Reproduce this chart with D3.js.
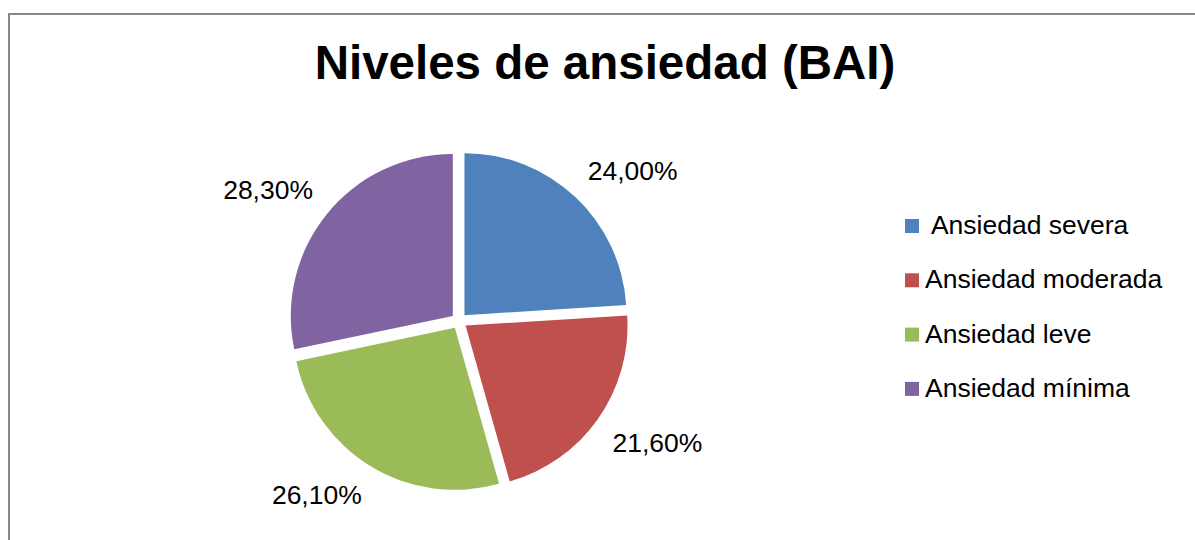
<!DOCTYPE html>
<html>
<head>
<meta charset="utf-8">
<script src="https://cdn.jsdelivr.net/npm/d3@7"></script>
<style>
  body { margin: 0; background: #fff; }
  svg text { font-family: "Liberation Sans", Arial, sans-serif; white-space: pre; }
</style>
</head>
<body>
<svg id="chart" width="1195" height="540"></svg>
<script>
const title = "Niveles de ansiedad (BAI)";
const categories = [" Ansiedad severa", "Ansiedad moderada", "Ansiedad leve", "Ansiedad mínima"];
const values = [24.0, 21.6, 26.1, 28.3];
const colors = ["#4F81BD", "#C0504D", "#9BBB59", "#8064A2"];

const svg = d3.select("#chart");

// chart area border (only top and left visible in the crop)
svg.append("rect")
    .attr("x", 9).attr("y", 14)
    .attr("width", 1300).attr("height", 700)
    .attr("fill", "none")
    .attr("stroke", "#868686")
    .attr("stroke-width", 2);

svg.append("text")
    .attr("x", 605).attr("y", 79)
    .attr("text-anchor", "middle")
    .attr("font-size", 47.5)
    .attr("font-weight", "bold")
    .text(title);

const cx = 459, cy = 321, radius = 162, explode = 8;
const data = categories.map((name, i) => ({name, value: values[i], color: colors[i]}));

const pie = d3.pie().sort(null).value(d => d.value);
const arc = d3.arc().innerRadius(0).outerRadius(radius);
const arcs = pie(data);

const pieG = svg.append("g").attr("transform", `translate(${cx},${cy})`);

pieG.selectAll("path.slice")
    .data(arcs)
    .enter()
    .append("path")
    .attr("class", "slice")
    .attr("transform", d => {
        const a = (d.startAngle + d.endAngle) / 2;
        return `translate(${Math.sin(a) * explode},${-Math.cos(a) * explode})`;
    })
    .attr("d", arc)
    .attr("fill", d => d.data.color);

// outside-end labels: nearest corner of the label box sits on the anchor point
const fmt = v => v.toFixed(2).replace(".", ",") + "%";
const labelDist = 188, labelFont = 26.5;
pieG.selectAll("text.label")
    .data(arcs)
    .enter()
    .append("text")
    .attr("class", "label")
    .attr("font-size", labelFont)
    .attr("text-anchor", "middle")
    .text(d => fmt(d.data.value))
    .each(function (d) {
        const a = (d.startAngle + d.endAngle) / 2;
        const w = this.getComputedTextLength();
        const h = 26;
        const x = Math.sin(a) * labelDist + Math.sign(Math.sin(a)) * w / 2;
        const y = -Math.cos(a) * labelDist - Math.sign(Math.cos(a)) * h / 2;
        d3.select(this).attr("x", x).attr("y", y + labelFont * 0.35);
    });

// legend
const legendG = svg.append("g").attr("transform", "translate(905,219)");
const rowH = 54.3;
const rows = legendG.selectAll("g.row")
    .data(data)
    .enter()
    .append("g")
    .attr("class", "row")
    .attr("transform", (d, i) => `translate(0,${i * rowH})`);

rows.append("rect")
    .attr("width", 14).attr("height", 14)
    .attr("fill", d => d.color);

rows.append("text")
    .attr("x", 20).attr("y", 15)
    .attr("font-size", labelFont)
    .text(d => d.name);
</script>
</body>
</html>
